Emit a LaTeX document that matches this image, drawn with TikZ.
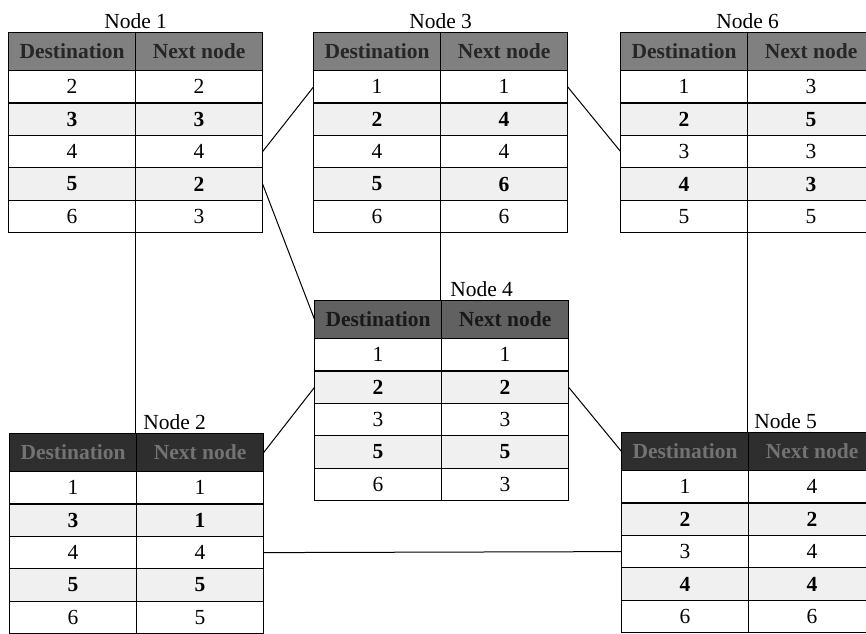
\documentclass[tikz,border=0pt]{standalone}
\usepackage{fontspec}
\setmainfont{Liberation Serif}
\usetikzlibrary{matrix,positioning}

\tikzset{
	rtable/.style={matrix of nodes, anchor=north west, inner sep=0pt, outer sep=0pt,
		column sep=-1.2pt, row sep=-1.2pt,
		nodes={draw, line width=1.2pt, minimum width=127pt, minimum height=32.4pt,
			inner sep=0pt, outer sep=0pt, anchor=center},
		row 3/.style={nodes={fill=black!6, font=\bfseries}},
		row 5/.style={nodes={fill=black!6, font=\bfseries}}},
	hdrlight/.style={row 1/.style={nodes={minimum height=38pt, fill=black!50, text=black!85, font=\bfseries}}},
	hdrmid/.style={row 1/.style={nodes={minimum height=38pt, fill=black!62, text=black!90, font=\bfseries}}},
	hdrdark/.style={row 1/.style={nodes={minimum height=38pt, fill=black!82, text=black!55, font=\bfseries}}},
	ttl/.style={inner sep=1pt},
	link/.style={line width=1pt},
}

\begin{document}
\fontsize{21.5}{25}\selectfont
\begin{tikzpicture}[x=1pt, y=-1pt]
	\clip (0,0) rectangle (866,633);

	\matrix (n1) [rtable, hdrlight] at (8,32) {
		Destination & Next node \\
		2 & 2 \\
		3 & 3 \\
		4 & 4 \\
		5 & 2 \\
		6 & 3 \\
	};
	\matrix (n3) [rtable, hdrlight] at (313,32) {
		Destination & Next node \\
		1 & 1 \\
		2 & 4 \\
		4 & 4 \\
		5 & 6 \\
		6 & 6 \\
	};
	\matrix (n6) [rtable, hdrlight] at (620,32) {
		Destination & Next node \\
		1 & 3 \\
		2 & 5 \\
		3 & 3 \\
		4 & 3 \\
		5 & 5 \\
	};
	\matrix (n4) [rtable, hdrmid] at (314,300) {
		Destination & Next node \\
		1 & 1 \\
		2 & 2 \\
		3 & 3 \\
		5 & 5 \\
		6 & 3 \\
	};
	\matrix (n2) [rtable, hdrdark] at (9,433) {
		Destination & Next node \\
		1 & 1 \\
		3 & 1 \\
		4 & 4 \\
		5 & 5 \\
		6 & 5 \\
	};
	\matrix (n5) [rtable, hdrdark] at (621,432) {
		Destination & Next node \\
		1 & 4 \\
		2 & 2 \\
		3 & 4 \\
		4 & 4 \\
		6 & 6 \\
	};

	% titles
	\node[ttl, above=3pt of n1-1-1.north east] (t1) {Node 1};
	\node[ttl, above=3pt of n3-1-1.north east] (t3) {Node 3};
	\node[ttl, above=3pt of n6-1-1.north east] (t6) {Node 6};
	\node[ttl, above=3pt of n4-1-1.north east, xshift=40pt] (t4) {Node 4};
	\node[ttl, above=3pt of n2-1-1.north east, xshift=38pt] (t2) {Node 2};
	\node[ttl, above=3pt of n5-1-1.north east, xshift=37pt] (t5) {Node 5};

	% links
	\draw[link] (n1-4-2.east) -- (n3-2-1.west);
	\draw[link] (n1-5-2.east) -- (n4-1-1.west);
	\draw[link] (n1-6-1.south east) -- (n1-6-1.south east |- n2-1-1.north);
	\draw[link] (n3-6-1.south east) -- (n3-6-1.south east |- n4-1-1.north);
	\draw[link] (n3-2-2.east) -- (n6-4-1.west);
	\draw[link] (n6-6-1.south east) -- (n6-6-1.south east |- n5-1-1.north);
	\draw[link] (n4-3-1.west) -- (n2-1-2.east);
	\draw[link] (n4-3-2.east) -- (n5-1-1.west);
	\draw[link] (n2-4-2.east) -- (n5-4-1.west);
\end{tikzpicture}
\end{document}
